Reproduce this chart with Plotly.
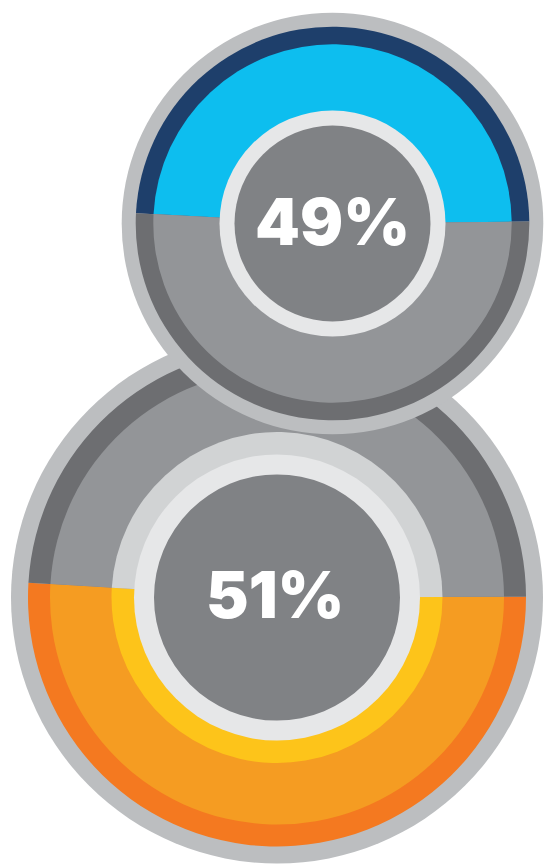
import plotly.graph_objects as go

# ---- data ----
segments = ["Share", "Rest"]
top_values = [49, 51]
bottom_values = [51, 49]
top_label = "49%"
bottom_label = "51%"

W, H = 544, 865

fig = go.Figure()


def dom(cx, cy, r):
    return dict(x=[(cx - r) / W, (cx + r) / W],
                y=[1 - (cy + r) / H, 1 - (cy - r) / H])


def ring(cx, cy, r, values, colors, rotation=90, direction="clockwise"):
    fig.add_trace(go.Pie(
        labels=segments[:len(values)], values=values, sort=False,
        marker=dict(colors=colors, line=dict(width=0)),
        textinfo="none", hoverinfo="skip", showlegend=False,
        rotation=rotation, direction=direction, hole=0,
        domain=dom(cx, cy, r)))


# ---- bottom circle ----
bcx, bcy = 277, 597.5
ring(bcx, bcy, 266, [1], ["#BCBEC0"])
ring(bcx, bcy, 249, bottom_values, ["#F47920", "#6D6E71"], 89.8, "clockwise")
ring(bcx, bcy, 227, bottom_values, ["#F59C22", "#939598"], 89.8, "clockwise")
ring(bcx, bcy, 165.5, bottom_values, ["#FDC41A", "#D1D3D4"], 89.8, "clockwise")
ring(bcx, bcy, 143, [1], ["#E6E7E8"])
ring(bcx, bcy, 123, [1], ["#808285"])

# ---- top circle ----
tcx, tcy = 332.5, 223.5
ring(tcx, tcy, 210.8, [1], ["#BCBEC0"])
ring(tcx, tcy, 196.8, top_values, ["#1E3F6B", "#6D6E71"], 273, "clockwise")
ring(tcx, tcy, 179.2, top_values, ["#0DBEEF", "#939598"], 273, "clockwise")
ring(tcx, tcy, 113, [1], ["#E6E7E8"])
ring(tcx, tcy, 98, [1], ["#808285"])

font = dict(family="Inter, Lato, sans-serif", size=64, color="white", weight=900)
fig.add_annotation(x=tcx / W, y=1 - 221.5 / H, xref="paper", yref="paper",
                   text=top_label, showarrow=False, font=font,
                   xanchor="center", yanchor="middle")
fig.add_annotation(x=(bcx - 2) / W, y=1 - 594.5 / H, xref="paper", yref="paper",
                   text=bottom_label, showarrow=False, font=font,
                   xanchor="center", yanchor="middle")

fig.update_layout(width=W, height=H, margin=dict(l=0, r=0, t=0, b=0),
                  paper_bgcolor="white", plot_bgcolor="white")
fig.write_html("out.html")
